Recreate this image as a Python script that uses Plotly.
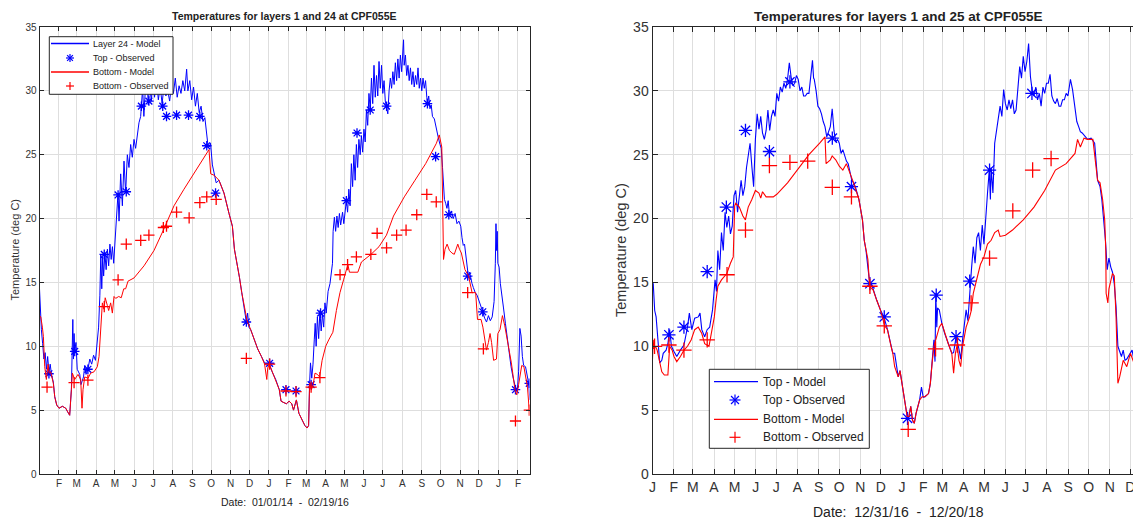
import pandas as pd
import plotly.graph_objects as go

# ---------------- data (day offset from base date, temperature deg C) ----------------
L_BASE = "2014-01-01"
R_BASE = "2017-01-01"

L_TOP_MODEL = [(0,14.5),(1.5,12.8),(3,11.3),(5,10.2),(7,9.0),(9,9.5),(11,8.2),(13,9.2),(15,8.0),(17,8.6),(19,7.8),(22,7.2),
 (24.2,6.05),(27.4,5.4),(31,5.15),(36.4,5.3),(41.7,5.15),(44.3,4.9),(48,4.6),(50.7,6.6),(52,9.5),(53,12.1),(54,9.0),(55,11.0),
 (56,9.6),(58,10.3),(60,8.2),(62,8.0),(64,7.8),(66,7.0),(67.6,7.2),(70,7.6),(72,8.5),(74,7.8),(77,8.2),(80,9.0),(83,8.6),(86,9.3),
 (89,8.9),(92,10.5),(94,11.5),(96,14.0),(97.5,17.2),(99,14.5),(100.5,17.0),(102,15.5),(104,17.3),(106,16.0),(108,17.6),(110,16.3),
 (112,18.0),(114,16.8),(116,17.8),(118,16.5),(120,18.0),(121.3,19.1),(123.8,21.5),(124.9,22.0),(126.5,19.8),(129.1,23.5),(131.8,21.0),
 (134.4,24.5),(137,22.0),(139.7,25.0),(142.3,24.0),(145,25.8),(147.6,24.8),(150.3,26.2),(152.9,25.5),(155.6,26.8),(158.2,27.5),
 (160.9,28.0),(162,28.8),(164,30.2),(166,28.0),(168,29.8),(171,31.0),(173,28.9),(175,30.5),(178,29.2),(180,30.8),(183,29.5),(186,31.0),
 (189,29.3),(192,30.3),(195,29.0),(198,30.4),(201,29.6),(204,30.0),(207,29.2),(210,30.5),(213,29.8),(216,31.0),(219,29.5),(222,30.4),
 (225,29.8),(228,30.8),(231,30.0),(234,31.7),(236,30.0),(239,30.8),(242,29.3),(245,30.3),(248,28.8),(251,29.8),(254,28.3),(257,28.8),
 (260,27.6),(263,27.9),(266,26.5),(268,25.7),(270,25.6),(272,25.9),(275,24.2),(278,23.5),(281,22.8),(285.5,23.0),(293.4,22.0),
 (301.4,20.4),(306.8,19.4),(310,17.6),(314,16.6),(318,15.4),(321.7,14.2),(325,13.2),(327.4,12.5),(329,11.9),(331,12.6),(333,11.5),
 (335.9,11.3),(341.6,10.5),(347,9.8),(353,9.2),(358,8.7),(361.5,8.5),(365.5,8.6),(370,8.0),(375.7,7.4),(381.4,6.6),(384.2,5.7),
 (388,5.6),(392.7,5.5),(397,5.7),(401.2,5.5),(404,5.0),(408.6,5.8),(412.6,4.75),(418.3,4.1),(422,3.8),(425.7,3.6),(428,3.8),
 (429.6,7.1),(431,8.7),(433,7.5),(435,8.6),(437,10.5),(438.5,11.8),(440,10.0),(442,12.3),(444,10.6),(446,12.8),(448,11.2),(450,12.5),
 (452,11.5),(454,13.4),(456,12.6),(459,14.3),(462,14.9),(464,16.0),(466,16.5),(467,19.0),(469,20.1),(471,19.0),(473,20.2),(475,19.3),
 (477,20.4),(479,19.5),(482,20.5),(484,19.6),(486,20.8),(488,21.4),(490,20.5),(492,22.3),(494,21.0),(496,24.3),(498,22.5),(500,25.0),
 (502,23.0),(504,25.8),(506,24.0),(508,26.2),(510,25.0),(512,26.5),(514,25.2),(516,27.0),(518,26.0),(520,28.5),(522,27.3),(524,29.8),
 (526,28.5),(528,31.0),(530,29.0),(532,32.0),(534,29.5),(536,31.2),(538,29.6),(540,32.3),(542,30.2),(544,32.0),(546,29.8),(548,30.8),
 (550,29.2),(552,28.8),(554,28.2),(556,30.0),(558,31.0),(560,30.2),(562,31.5),(564,30.5),(566,32.2),(568,30.8),(570,32.5),(572,31.0),
 (574,32.8),(576,31.5),(578,33.0),(579,34.0),(580,32.0),(582,32.8),(584,31.2),(586,32.0),(588,30.8),(590,31.8),(592,30.5),(594,31.5),
 (596,30.3),(598,31.2),(600,30.5),(602,31.8),(604,30.2),(606,31.0),(608,30.0),(610,31.0),(612,30.2),(614,30.8),(616,29.5),(617,29.0),
 (619,29.6),(621,28.6),(623,28.9),(625,28.0),(628,27.8),(631,27.0),(634,26.4),(637,25.8),(639,25.5),(641,24.0),(642,22.8),(644,21.5),
 (646,21.2),(648,20.8),(650,21.4),(652,20.3),(655,20.6),(658,20.0),(661,20.4),(664,19.6),(667,19.8),(670,19.4),(672,18.5),(674,17.9),
 (676,18.0),(678,17.0),(680,16.2),(682,15.5),(684,15.8),(686,15.2),(688,14.9),(690,14.6),(693,14.2),(696,14.0),(699,13.6),(702,13.2),
 (705,12.7),(708,12.2),(711,11.9),(714,12.4),(717,12.0),(720,12.3),(723,13.5),(725,16.5),(726,19.6),(727,17.5),(728,19.0),(729,16.5),
 (731,16.2),(733,14.9),(736,13.5),(738,13.0),(741,11.8),(744,10.5),(747,9.5),(750,8.4),(753,7.6),(756,7.1),(758,6.6),(760,6.5),
 (762,8.0),(764,11.4),(766,10.8),(768,9.2),(770,8.5),(773,8.4),(776,7.5),(778,7.1),(780,5.8)]

L_TOP_OBS = [(15,7.85),(56,9.6),(77,8.2),(103,17.2),(125,21.85),(138,22.1),(162,28.8),(174,29.2),(196,28.8),(202,28.0),(218,28.1),
 (237,28.1),(255,28.0),(266,25.7),(280,22.0),(329,11.9),(366,8.67),(392,6.6),(408,6.5),(432,7.0),(447,12.6),(488,21.4),(505,26.7),
 (526,28.5),(552,28.8),(617,29.0),(630,24.85),(651,20.3),(681,15.5),(705,12.7),(757,6.6),(779,7.1)]

L_BOT_MODEL = [(0,12.4),(2,12.3),(4.6,11.5),(6.2,10.75),(8.3,8.4),(10.9,7.4),(13.6,8.6),(15.5,7.9),(17.8,8.0),(22,7.1),(24.2,6.05),
 (27.4,5.4),(31,5.15),(36.4,5.3),(41.7,5.15),(44.3,4.9),(48,4.6),(50.7,6.6),(52.3,7.9),(56,7.4),(61.3,7.8),(65.5,7.4),(67.6,5.15),
 (69.2,6.6),(71.9,7.6),(77.2,7.5),(81.4,7.9),(86.7,8.0),(92,8.4),(94.7,9.2),(97.3,11.3),(100,13.4),(102.6,12.9),(104.5,13.8),
 (107.9,13.2),(110,12.8),(113.2,13.4),(115.9,12.6),(118.5,13.9),(121.2,13.75),(126,13.9),(130,13.8),(134,14.5),(137,14.5),(140.8,15.1),
 (150.3,15.35),(166.2,16.3),(182.1,17.5),(198,19.2),(213.9,21.0),(229.8,22.3),(245.7,23.55),(261.6,24.7),(269.6,25.4),(272.3,23.5),
 (277.5,23.4),(285.5,23.0),(293.4,22.0),(301.4,20.4),(306.8,19.4),(310,17.6),(314,16.6),(318,15.4),(321.7,14.2),(325,13.4),
 (327.4,12.6),(330.2,12.0),(335.9,11.3),(341.6,10.5),(347,9.8),(353,9.2),(358,8.6),(361.5,7.4),(363,8.3),(365.5,8.6),(370,8.0),
 (375.7,7.4),(381.4,6.6),(384.2,5.7),(388,5.6),(392.7,5.5),(397,5.7),(401.2,5.5),(404,5.0),(408.6,5.8),(412.6,4.75),(418.3,4.1),
 (422,3.8),(425.7,3.6),(428,3.8),(429.6,7.1),(432.5,6.6),(435.3,7.0),(438.2,7.9),(442,7.8),(445.5,7.6),(449.5,8.9),(455.2,10.0),
 (460,10.5),(466.6,11.1),(472.2,12.8),(477.9,14.2),(483.6,15.2),(487,15.9),(490.4,16.4),(493,15.8),(497.8,15.8),(506.3,15.8),
 (512,16.6),(517.7,16.8),(527.3,17.2),(540,17.8),(551.8,18.7),(563,20.2),(580.2,21.7),(597.2,23.0),(614.2,24.3),(631.3,25.9),
 (635.8,26.55),(639.8,25.6),(642.6,16.8),(645,17.6),(648.3,18.0),(652,17.5),(656,17.3),(659.7,17.2),(662,17.5),(665.3,18.0),
 (668,17.6),(671,17.3),(676.7,16.0),(682.4,15.5),(688,14.2),(693.7,14.2),(696.6,12.1),(702.3,12.1),(705.2,11.5),(710.9,9.7),
 (714,10.3),(716.6,11.0),(719,10.3),(722.2,8.9),(726.8,9.0),(729,11.0),(732.4,11.3),(736.3,12.4),(740,11.6),(744.9,10.2),(750.5,8.7),
 (756.2,6.6),(759.1,6.2),(762,7.0),(764.7,7.9),(767,8.5),(770.4,8.4),(773,7.6),(776.1,6.8),(778.9,5.0),(780,4.9)]

L_BOT_OBS = [(12,6.8),(55,7.15),(77,7.35),(103,13.1),(125,15.2),(138,18.0),(161,18.3),(174,18.7),(197,19.3),(202,19.4),(218,20.5),
 (238,20.05),(255,21.25),(266,21.7),(281,21.5),(329,9.06),(366,8.6),(392,6.5),(408,6.45),(432,6.8),(446,7.55),(478,15.6),(490,16.4),
 (504,17.0),(527,17.2),(537,18.85),(552,17.7),(568,18.7),(583,19.1),(600,20.3),(616,21.9),(631,21.3),(681,14.2),(706,9.8),(757,4.15),
 (779,5.0)]

R_TOP_MODEL = [(0,15.0),(1.1,14.9),(3.2,12.8),(5.3,12.3),(8.4,10.2),(10.5,8.7),(13.6,8.9),(15.7,9.45),(19.9,9.7),(22.5,10.2),(25.1,11.3),
 (27.7,10.0),(31.4,9.6),(35.5,9.2),(40.8,9.7),(46,10.1),(51.2,11.5),(53.9,12.6),(57.5,11.3),(61.7,12.2),(66.9,12.3),(69.5,12.6),
 (72.1,11.3),(76.3,10.75),(79.9,11.3),(83.6,11.5),(87.8,12.85),(91.5,15.2),(93.6,14.3),(95.6,17.5),(98.2,16.0),(100.9,18.9),
 (103.5,17.5),(106.1,20.5),(108.7,19.3),(111.4,20.2),(114,18.8),(116.6,19.4),(119.2,21.8),(121.7,22.2),(124.4,20.5),(127,22.0),
 (129.6,23.0),(132.2,21.8),(134.9,22.5),(137.5,24.0),(140,24.9),(142.7,25.9),(145.3,24.1),(147.9,22.5),(150.5,26.2),(153.1,28.2),
 (155.7,27.0),(158.3,28.0),(160.9,26.7),(163.6,26.2),(166.2,26.9),(168.8,28.5),(171.4,26.9),(174,28.0),(176.6,28.5),(179.2,28.0),
 (181.8,29.8),(184.4,29.2),(187,30.3),(189.7,29.9),(192.3,30.6),(194.9,30.2),(197.5,30.9),(200.1,32.2),(202.7,31.1),(205.3,30.4),
 (207.9,30.6),(210.5,31.2),(213.1,30.9),(215.8,30.0),(218.4,30.3),(221,29.6),(223.6,29.6),(226.2,29.8),(228.8,29.8),(231.4,31.1),
 (234,32.4),(235.6,31.0),(236.6,30.9),(239.3,30.0),(241.9,28.8),(244.5,28.6),(247.1,28.2),(249.7,27.6),(252.3,27.2),(254.9,26.4),
 (257.5,26.8),(260.1,27.2),(262.8,28.6),(265.4,26.9),(268,26.0),(270.6,26.2),(273.2,25.9),(275.8,25.1),(278.4,25.4),(281,24.9),
 (283.6,24.5),(286.2,24.3),(288.8,23.5),(291.5,23.0),(294.1,22.8),(296.7,22.5),(301.9,21.5),(307.1,19.9),(309.7,18.3),(312.3,17.5),
 (315,16.2),(317.6,15.0),(320.2,14.9),(322.8,14.4),(328,13.6),(333.3,12.85),(338.5,12.3),(343.7,11.3),(348.9,10.0),(351.5,9.45),
 (354.2,9.45),(356.8,8.6),(359.4,7.6),(362,8.1),(367.2,6.3),(369.8,5.3),(372.5,4.5),(375.1,4.5),(377.7,5.3),(380.3,4.2),(382.9,3.97),
 (385.5,4.75),(390.7,5.8),(393.4,6.8),(396,6.0),(398.5,6.05),(403.7,6.3),(406.4,7.1),(409,8.7),(411.6,10.5),(413.2,8.8),(414.3,14.15),
 (415.8,11.5),(416.9,13.0),(419.5,12.85),(423.2,11.8),(427.4,11.0),(432.6,10.2),(437.8,9.45),(440.4,9.5),(444.1,10.75),(448.2,9.8),
 (450.8,9.0),(453.5,10.5),(456.1,11.5),(458.7,12.85),(461.3,12.0),(463.9,14.5),(466.5,16.0),(469.2,17.8),(471.8,16.5),(474.4,18.5),
 (477,18.9),(479.6,17.5),(482.3,19.5),(484.8,18.0),(487.4,20.5),(490,22.0),(492.6,23.8),(494.2,21.5),(495.3,24.0),(497.9,22.0),
 (500.5,25.9),(503.1,26.8),(505.7,27.7),(508.4,28.8),(511,28.0),(513.6,30.1),(516.2,29.0),(518.8,28.5),(521.4,29.3),(524,28.6),
 (526.6,29.3),(529.2,28.2),(531.8,28.5),(534.5,30.6),(537.1,31.9),(539.7,31.0),(542.3,32.7),(544.9,31.5),(547.5,32.3),(550.1,33.7),
 (551.7,32.0),(552.8,31.1),(555.4,30.0),(558,29.6),(560.6,30.3),(563.2,29.3),(565.8,29.8),(568.4,28.8),(571.1,30.3),(573.6,29.8),
 (576.3,30.6),(578.9,30.6),(581.5,31.3),(584.1,29.6),(586.7,29.2),(589.3,29.0),(591.9,29.4),(594.6,28.8),(597.2,28.8),(599.8,29.3),
 (602.4,29.3),(605,29.8),(607.6,29.6),(611.3,30.9),(614.4,30.1),(618,28.5),(620.6,27.6),(623.3,27.2),(625.8,26.8),(628.5,26.7),
 (631.1,26.5),(633.7,26.4),(636.3,26.2),(641.5,26.3),(646.7,25.9),(651,23.0),(654.6,22.5),(657.2,21.5),(659.8,20.2),(662.5,18.3),
 (665.1,16.0),(667.6,16.9),(670.3,16.2),(672.8,15.8),(675.4,14.9),(678,13.1),(680.7,10.0),(683.3,9.5),(685.9,9.2),(688.5,9.7),
 (691.1,8.9),(693.7,9.0),(699,9.45),(701.5,9.7),(704.2,8.9),(708.4,8.0),(710.4,6.5),(713.6,5.0),(716,4.8)]

R_TOP_OBS = [(24,10.9),(46,11.5),(80,15.85),(108,20.9),(136,26.9),(171,25.25),(201,30.7),(263,26.3),(291,22.5),(318,14.9),(339,12.3),
 (373,4.36),(415,14.0),(444,10.75),(464,15.1),(493,23.8),(555,29.8)]

R_BOT_MODEL = [(0,9.0),(1,10.5),(2,9.8),(4.2,10.0),(6.8,9.7),(10.5,8.7),(13.6,8.0),(17.3,7.75),(22.5,7.75),(25.1,10.0),(28.8,9.7),
 (31.4,9.2),(35.5,8.8),(40.8,9.2),(46,9.7),(51.2,10.0),(56.5,10.5),(61.7,11.3),(66.9,11.5),(72.1,11.0),(76.3,10.2),(82.6,10.0),
 (86.7,11.3),(90.4,12.3),(93,13.6),(95.6,14.7),(100.9,15.2),(108.7,15.7),(114,16.5),(118.1,17.0),(120.2,21.0),(121.7,21.2),(127,20.9),
 (132.2,20.2),(135.9,19.9),(140,20.9),(145.3,21.5),(150.5,22.2),(155.7,22.0),(158.3,21.6),(160.9,22.1),(166.2,21.7),(176.6,21.7),
 (181.8,21.9),(197.5,22.8),(213.1,23.9),(228.8,25.0),(244.5,25.9),(252.3,26.4),(253.9,24.3),(260.1,24.6),(262.8,24.9),(268,24.6),
 (273.2,24.1),(278.4,23.8),(283.6,24.3),(288.8,23.6),(294.1,22.8),(301.9,21.5),(307.1,19.9),(309.7,18.3),(315,16.8),(317.6,14.7),
 (322.8,14.4),(328,13.6),(333.3,12.85),(339.6,11.6),(343.7,11.3),(348.9,10.0),(351.5,9.45),(354.2,8.4),(359.4,7.6),(362,8.1),
 (367.2,6.3),(369.8,5.3),(372.5,4.5),(375.1,4.5),(377.7,5.3),(380.3,4.2),(382.9,3.97),(385.5,4.75),(390.7,5.8),(394.4,6.05),
 (398.5,6.05),(403.7,6.3),(406.4,7.1),(409,8.7),(411.6,10.0),(414.3,10.5),(419.5,11.5),(423.2,11.8),(427.4,11.0),(432.6,10.2),
 (437.8,9.45),(440.4,7.9),(443,9.45),(445.6,10.1),(448.2,8.9),(450.8,8.4),(453.5,10.0),(458.7,11.5),(463.9,12.3),(466.5,12.85),
 (469.2,14.15),(474.4,15.2),(479.6,16.4),(484.8,17.0),(490,18.0),(495.3,18.3),(500.5,18.9),(505.7,19.1),(508.3,18.6),(516.2,18.7),
 (526.6,19.1),(542.3,19.9),(558,20.9),(573.6,22.2),(589.3,23.8),(605,24.3),(618,25.1),(621.7,26.2),(625.8,25.6),(631.1,26.3),
 (636.3,26.2),(644.1,26.2),(646.7,25.1),(651,23.0),(654.6,22.8),(658.3,21.5),(661.4,19.9),(663,17.5),(663.5,14.15),(666,13.4),
 (667.6,14.5),(672.8,15.7),(675.4,15.5),(678,12.3),(680.7,7.1),(683.3,7.6),(688.5,8.9),(693.7,8.4),(699,9.45),(704.2,8.7),
 (708.4,7.9),(710.4,5.8),(713.6,4.75),(716,4.6)]

R_BOT_OBS = [(3,10.0),(24,10.1),(46,9.7),(80,10.5),(109,15.6),(136,19.1),(171,24.15),(201,24.4),(227,24.5),(263,22.45),(291,21.7),
 (318,14.7),(339,11.6),(374,3.5),(414,9.8),(446,10.1),(466,13.4),(493,16.9),(527,20.6),(556,23.8),(583,24.7)]

L_TICK_MONTHS = pd.date_range("2014-02-01", "2016-02-01", freq="MS")
R_TICK_MONTHS = pd.date_range("2017-01-01", "2018-12-01", freq="MS")
L_LEGEND = ["Layer 24 - Model", "Top - Observed", "Bottom - Model", "Bottom - Observed"]
R_LEGEND = ["Top - Model", "Top - Observed", "Bottom - Model", "Bottom - Observed"]

# ---------------- page geometry ----------------
WIN_W, WIN_H = 1141, 523
OFF = 8                       # default page margin around the plot div
W, H = WIN_W - OFF, WIN_H - OFF
FONT = "Liberation Sans, Arial, Helvetica, sans-serif"
AX = "#262626"
GRID = "#dedede"
BLUE = "#0000ff"
RED = "#ff0000"


def fx(x):  # window pixel -> paper fraction
    return (x - OFF) / W


def fy(y):
    return 1 - (y - OFF) / H


def xy(base, pairs):
    days = [p[0] for p in pairs]
    vals = [p[1] for p in pairs]
    return pd.Timestamp(base) + pd.to_timedelta(days, unit="D"), vals


fig = go.Figure()


def add_panel(base, top_model, top_obs, bot_model, bot_obs, xa, ya, names, msize, lw):
    x, y = xy(base, top_model)
    fig.add_trace(go.Scatter(x=x, y=y, mode="lines", name=names[0], line=dict(color=BLUE, width=lw),
                             xaxis=xa, yaxis=ya, showlegend=False))
    x, y = xy(base, top_obs)
    fig.add_trace(go.Scatter(x=x, y=y, mode="markers", name=names[1],
                             marker=dict(symbol="asterisk-open", size=msize, color=BLUE, line=dict(color=BLUE, width=1.3)),
                             xaxis=xa, yaxis=ya, showlegend=False))
    x, y = xy(base, bot_model)
    fig.add_trace(go.Scatter(x=x, y=y, mode="lines", name=names[2], line=dict(color=RED, width=lw),
                             xaxis=xa, yaxis=ya, showlegend=False))
    x, y = xy(base, bot_obs)
    fig.add_trace(go.Scatter(x=x, y=y, mode="markers", name=names[3],
                             marker=dict(symbol="cross-thin-open", size=msize, color=RED, line=dict(color=RED, width=1.3)),
                             xaxis=xa, yaxis=ya, showlegend=False))


add_panel(L_BASE, L_TOP_MODEL, L_TOP_OBS, L_BOT_MODEL, L_BOT_OBS, "x", "y", L_LEGEND, 8, 1.0)
add_panel(R_BASE, R_TOP_MODEL, R_TOP_OBS, R_BOT_MODEL, R_BOT_OBS, "x2", "y2", R_LEGEND, 11, 1.1)

ydom = [fy(474), fy(27)]


def xaxis(domain, rng, ticks, fsize, tlen, anchor):
    return dict(domain=domain, range=rng, tickvals=list(ticks), ticktext=[d.strftime("%b")[0] for d in ticks],
                showgrid=True, gridcolor=GRID, gridwidth=1, ticks="inside", ticklen=tlen, tickcolor=AX, tickwidth=1,
                showline=True, linecolor=AX, linewidth=1, mirror="ticks", zeroline=False, automargin=False,
                tickfont=dict(family=FONT, size=fsize, color="#333333"), anchor=anchor)


def yaxis(anchor, fsize, tlen):
    return dict(domain=ydom, range=[0, 35], tickvals=[0, 5, 10, 15, 20, 25, 30, 35], anchor=anchor,
                showgrid=True, gridcolor=GRID, gridwidth=1, ticks="inside", ticklen=tlen, tickcolor=AX, tickwidth=1,
                showline=True, linecolor=AX, linewidth=1, mirror="ticks", zeroline=False, automargin=False,
                tickfont=dict(family=FONT, size=fsize, color="#333333"))


fig.update_layout(
    width=W, height=H, margin=dict(l=0, r=0, t=0, b=0, pad=0),
    paper_bgcolor="white", plot_bgcolor="white",
    font=dict(family=FONT, color=AX),
    xaxis=xaxis([fx(39.5), fx(529.5)], ["2014-01-01", "2016-02-19 08:00"], L_TICK_MONTHS, 10, 4, "y"),
    yaxis=yaxis("x", 10, 4),
    xaxis2=xaxis([fx(652.5), 1.0], ["2017-01-01", "2018-12-16 12:00"], R_TICK_MONTHS, 14, 5, "y2"),
    yaxis2=yaxis("x2", 14, 5),
    showlegend=False,
)

NB = "\u00a0"
# titles anchored at the top edge of the drawing area so nothing is clipped
fig.add_annotation(text="<b>Temperatures for layers 1 and 24 at CPF055E</b>", x=fx(284.5), y=fy(8.5),
                   xref="paper", yref="paper", showarrow=False, xanchor="center", yanchor="top", borderpad=0,
                   font=dict(family=FONT, size=10.5, color="#222"))
fig.add_annotation(text="<b>Temperatures for layers 1 and 25 at CPF055E</b>", x=fx(898), y=fy(8),
                   xref="paper", yref="paper", showarrow=False, xanchor="center", yanchor="top", borderpad=0,
                   font=dict(family=FONT, size=13.5, color="#222"))
for text, x, y, size in [(f"Date:{NB}{NB}01/01/14{NB}{NB}-{NB}{NB}02/19/16", 284.5, 502, 10.5),
                         (f"Date:{NB}{NB}12/31/16{NB}{NB}-{NB}{NB}12/20/18", 898, 512, 14)]:
    fig.add_annotation(text=text, x=fx(x), y=fy(y), xref="paper", yref="paper", showarrow=False,
                       xanchor="center", yanchor="middle", font=dict(family=FONT, size=size, color="#222"))
fig.add_annotation(text="Temperature (deg C)", x=fx(14.5), y=fy(250), xref="paper", yref="paper", showarrow=False,
                   textangle=-90, xanchor="center", yanchor="middle", font=dict(family=FONT, size=11, color="#333"))
fig.add_annotation(text="Temperature (deg C)", x=fx(621), y=fy(250), xref="paper", yref="paper", showarrow=False,
                   textangle=-90, xanchor="center", yanchor="middle", font=dict(family=FONT, size=14.5, color="#333"))


# ---------------- legends drawn as boxed keys (pixel layout) ----------------
def seg(x0, y0, x1, y1, color, width=1.0):
    fig.add_shape(type="line", xref="paper", yref="paper", x0=fx(x0), y0=fy(y0), x1=fx(x1), y1=fy(y1),
                  line=dict(color=color, width=width))


def draw_legend(box, rows, line_x, mark_x, text_x, labels, fsize, r):
    fig.add_shape(type="rect", xref="paper", yref="paper", x0=fx(box[0]), y0=fy(box[1]), x1=fx(box[2]), y1=fy(box[3]),
                  line=dict(color=AX, width=1), fillcolor="white", layer="above")
    kinds = ["line", "star", "line", "plus"]
    colors = [BLUE, BLUE, RED, RED]
    for yy, kind, col, lab in zip(rows, kinds, colors, labels):
        if kind == "line":
            seg(line_x[0], yy, line_x[1], yy, col, 1.3)
        elif kind == "plus":
            seg(mark_x - r, yy, mark_x + r, yy, col, 1.2)
            seg(mark_x, yy - r, mark_x, yy + r, col, 1.2)
        else:
            q = r * 0.72
            seg(mark_x - r, yy, mark_x + r, yy, col, 1.2)
            seg(mark_x, yy - r, mark_x, yy + r, col, 1.2)
            seg(mark_x - q, yy - q, mark_x + q, yy + q, col, 1.2)
            seg(mark_x - q, yy + q, mark_x + q, yy - q, col, 1.2)
        fig.add_annotation(text=lab, x=fx(text_x), y=fy(yy), xref="paper", yref="paper", showarrow=False,
                           xanchor="left", yanchor="middle", font=dict(family=FONT, size=fsize, color="#222"))


draw_legend((49.3, 36.7, 173, 94.3), [43.5, 58, 72, 86], (51, 89), 70, 90.5, L_LEGEND, 9, 4)
draw_legend((709.3, 369.3, 869.3, 448.3), [381.7, 400, 419.3, 437.3], (714, 758), 735, 761, R_LEGEND, 12, 5.5)

fig.write_html("out.html")
